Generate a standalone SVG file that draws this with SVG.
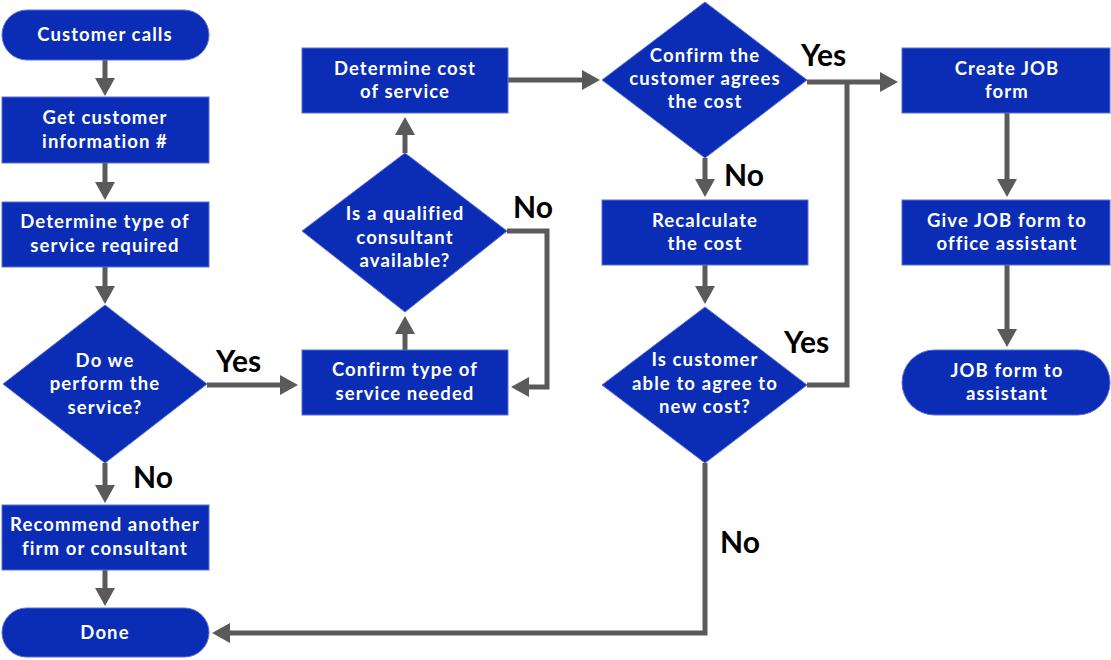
<svg xmlns="http://www.w3.org/2000/svg" width="1111" height="660" viewBox="0 0 1111 660">
<defs>
<style>
.n{fill:#0b2db5;stroke:#5a6fd6;stroke-width:1}
.t{fill:#ffffff;font-family:Lato,"Noto Sans",sans-serif;font-weight:700;font-size:18.5px;letter-spacing:1.1px;text-anchor:middle}
.l{fill:#000000;font-family:Lato,"Liberation Sans",sans-serif;font-weight:700;font-size:30px}
.c{fill:none;stroke:#5a5a5a;stroke-width:5}
</style>
<marker id="ah" markerUnits="userSpaceOnUse" markerWidth="20" markerHeight="22" refX="1" refY="11" orient="auto">
<path d="M0,1 L18,11 L0,21 z" fill="#5a5a5a"/>
</marker>
</defs>
<rect width="1111" height="660" fill="#ffffff"/>
<g id="connectors">
<path class="c" d="M105,60 V79" marker-end="url(#ah)"/>
<path class="c" d="M105,163 V183" marker-end="url(#ah)"/>
<path class="c" d="M105,267 V287" marker-end="url(#ah)"/>
<path class="c" d="M207,385 H281" marker-end="url(#ah)"/>
<path class="c" d="M105,463 V486" marker-end="url(#ah)"/>
<path class="c" d="M105,570 V589" marker-end="url(#ah)"/>
<path class="c" d="M705,463 V633 H229" marker-end="url(#ah)"/>
<path class="c" d="M405,350 V333" marker-end="url(#ah)"/>
<path class="c" d="M405,153 V134" marker-end="url(#ah)"/>
<path class="c" d="M507,231 H547 V387 H528" marker-end="url(#ah)"/>
<path class="c" d="M508,80 H583" marker-end="url(#ah)"/>
<path class="c" d="M807,82 H881" marker-end="url(#ah)"/>
<path class="c" d="M807,385 H847 V82"/>
<path class="c" d="M705,158 V180" marker-end="url(#ah)"/>
<path class="c" d="M705,265 V287" marker-end="url(#ah)"/>
<path class="c" d="M1007,113 V180" marker-end="url(#ah)"/>
<path class="c" d="M1007,265 V330" marker-end="url(#ah)"/>
<text class="l" x="216" y="372">Yes</text>
<text class="l" x="133" y="488">No</text>
<text class="l" x="513" y="218">No</text>
<text class="l" x="801" y="66">Yes</text>
<text class="l" x="724" y="186">No</text>
<text class="l" x="784" y="353">Yes</text>
<text class="l" x="720" y="553">No</text>
</g>
<g id="customer-calls">
<rect class="n" x="2" y="10" width="207" height="50" rx="25"/>
<text class="t" x="105" y="41">Customer calls</text>
</g>
<g id="get-info">
<rect class="n" x="2" y="97" width="207" height="66"/>
<text class="t" x="105" y="124">Get customer</text>
<text class="t" x="105" y="148">information #</text>
</g>
<g id="determine-type">
<rect class="n" x="2" y="202" width="207" height="65"/>
<text class="t" x="105" y="228">Determine type of</text>
<text class="t" x="105" y="252">service required</text>
</g>
<g id="do-we-perform">
<polygon class="n" points="105,305 207,384 105,463 3,384"/>
<text class="t" x="105" y="367">Do we</text>
<text class="t" x="105" y="390">perform the</text>
<text class="t" x="105" y="414">service?</text>
</g>
<g id="recommend">
<rect class="n" x="2" y="505" width="207" height="65"/>
<text class="t" x="105" y="531">Recommend another</text>
<text class="t" x="105" y="555">firm or consultant</text>
</g>
<g id="done">
<rect class="n" x="2" y="608" width="207" height="49" rx="24.5"/>
<text class="t" x="105" y="639">Done</text>
</g>
<g id="confirm-type">
<rect class="n" x="302" y="350" width="206" height="65"/>
<text class="t" x="405" y="376">Confirm type of</text>
<text class="t" x="405" y="400">service needed</text>
</g>
<g id="qualified-consultant">
<polygon class="n" points="405,153 507,231 405,312 302,231"/>
<text class="t" x="405" y="220">Is a qualified</text>
<text class="t" x="405" y="244">consultant</text>
<text class="t" x="405" y="267">available?</text>
</g>
<g id="determine-cost">
<rect class="n" x="302" y="48" width="206" height="65"/>
<text class="t" x="405" y="75">Determine cost</text>
<text class="t" x="405" y="98">of service</text>
</g>
<g id="confirm-agrees">
<polygon class="n" points="705,2 807,80 705,158 602,80"/>
<text class="t" x="705" y="62">Confirm the</text>
<text class="t" x="705" y="85">customer agrees</text>
<text class="t" x="705" y="108">the cost</text>
</g>
<g id="recalculate">
<rect class="n" x="602" y="200" width="206" height="65"/>
<text class="t" x="705" y="227">Recalculate</text>
<text class="t" x="705" y="250">the cost</text>
</g>
<g id="able-to-agree">
<polygon class="n" points="705,307 807,385 705,463 602,385"/>
<text class="t" x="705" y="366">Is customer</text>
<text class="t" x="705" y="390">able to agree to</text>
<text class="t" x="705" y="413">new cost?</text>
</g>
<g id="create-job">
<rect class="n" x="902" y="48" width="208" height="65"/>
<text class="t" x="1007" y="75">Create JOB</text>
<text class="t" x="1007" y="98">form</text>
</g>
<g id="give-job">
<rect class="n" x="902" y="200" width="208" height="65"/>
<text class="t" x="1007" y="227">Give JOB form to</text>
<text class="t" x="1007" y="250">office assistant</text>
</g>
<g id="job-to-assistant">
<rect class="n" x="902" y="350" width="208" height="65" rx="32.5"/>
<text class="t" x="1007" y="377">JOB form to</text>
<text class="t" x="1007" y="400">assistant</text>
</g>
</svg>
